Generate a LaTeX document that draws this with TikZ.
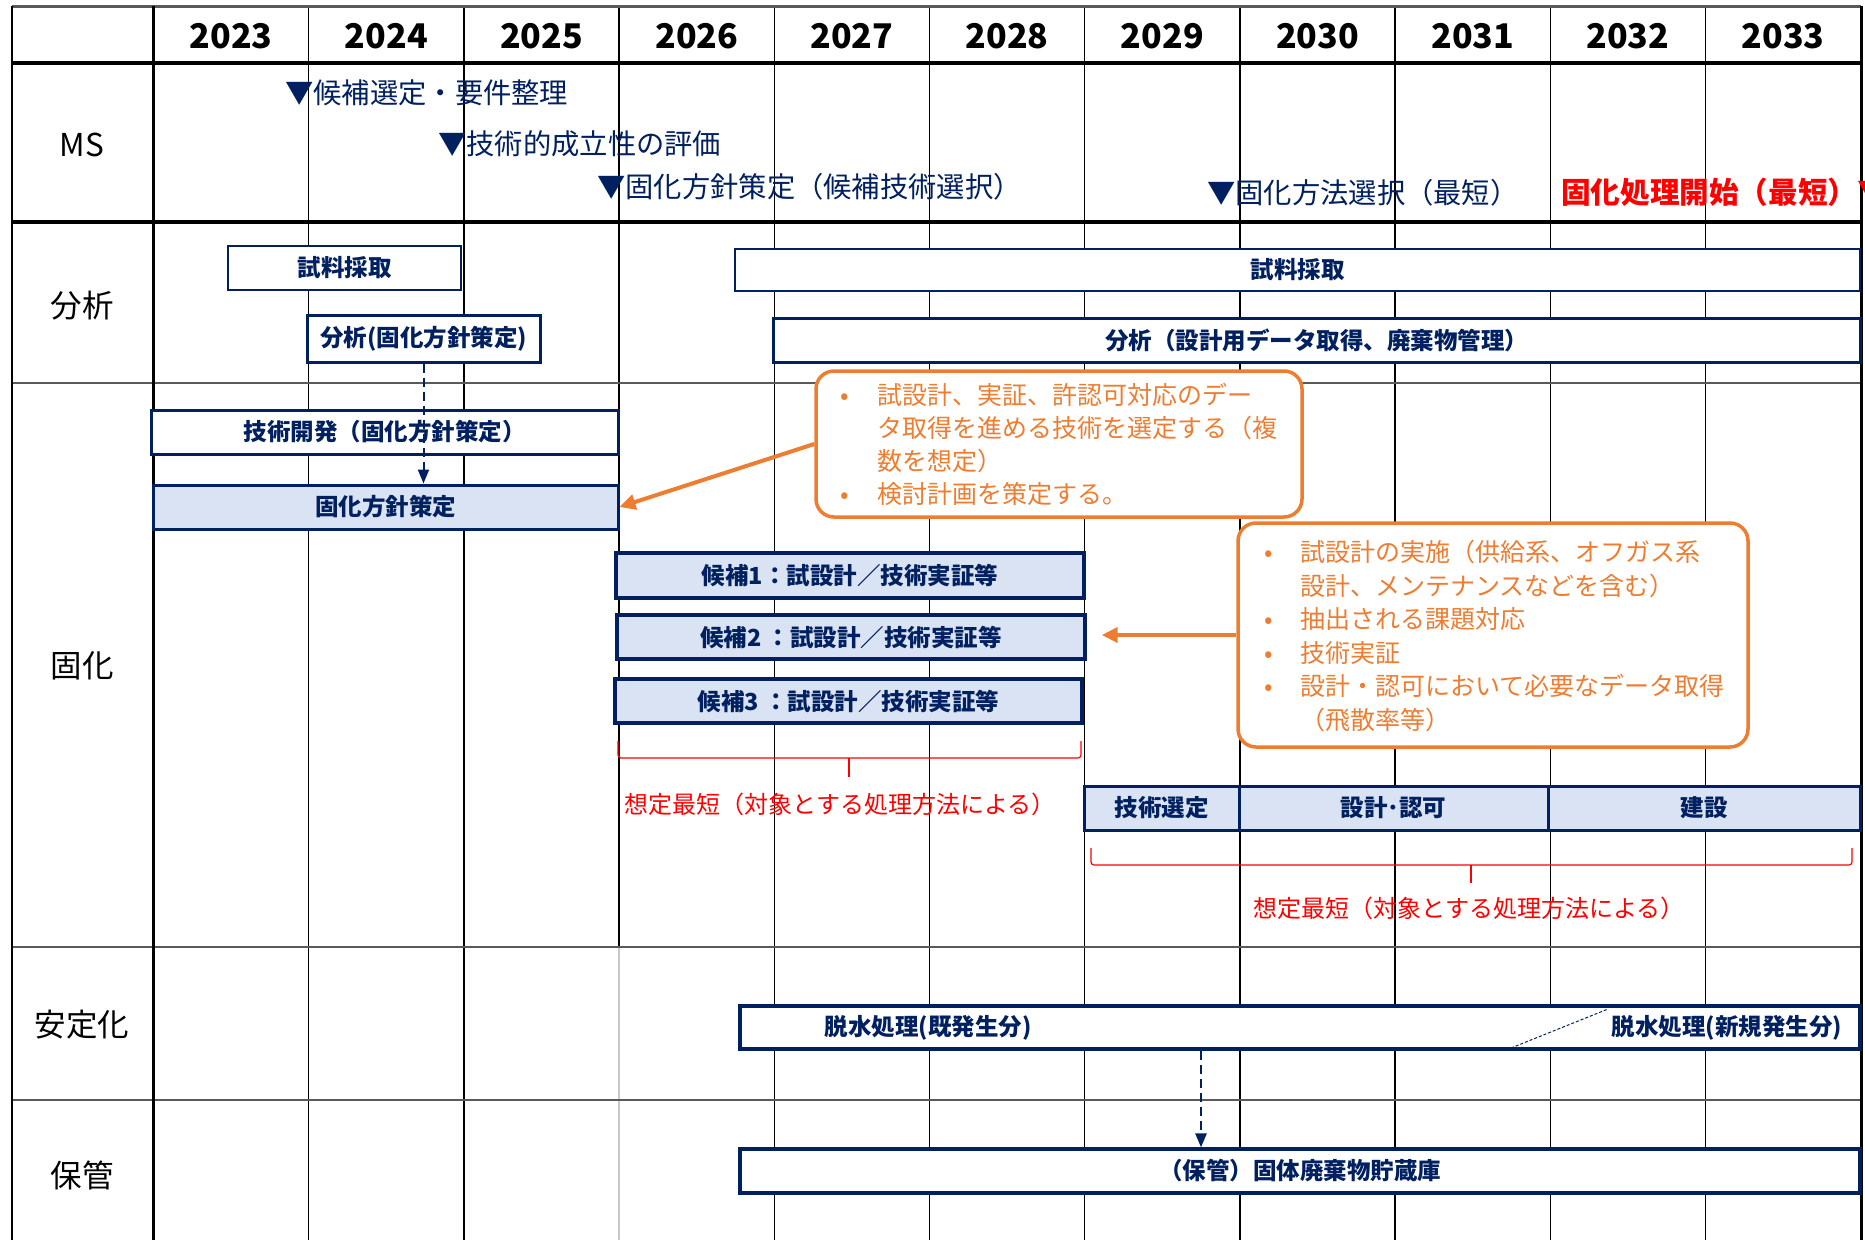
\documentclass[tikz,border=0pt]{standalone}
\usepackage{fontspec}
\setmainfont{Noto Sans CJK JP}
\usetikzlibrary{arrows.meta,calc}
\definecolor{navy}{RGB}{0,32,96}
\definecolor{lblue}{RGB}{218,227,243}
\definecolor{orng}{RGB}{237,125,49}
\definecolor{gridgray}{RGB}{90,90,90}
\definecolor{lightgrid}{RGB}{200,200,200}
\newcommand{\myfs}[1]{\fontsize{#1}{#1}\selectfont}
\tikzset{
  bar/.style={draw=navy, line width=2.8pt, fill=white, text=navy, font=\myfs{23.5}\bfseries, inner sep=0pt},
  barb/.style={bar, fill=lblue},
  bartext/.style={text=navy, font=\myfs{23.5}\bfseries, inner sep=0pt},
  year/.style={font=\myfs{34}\bfseries, text=black, inner sep=0pt},
  rowlab/.style={font=\myfs{31.5}, text=black, inner sep=0pt},
  mstext/.style={font=\myfs{28.3}, text=navy, inner sep=0pt, anchor=west},
  callout/.style={draw=orng, line width=3.5pt, rounded corners=18pt, fill=white, inner sep=0pt},
  ctext/.style={text=orng, font=\fontsize{25}{33}\selectfont, inner sep=0pt, anchor=base west},
  redlab/.style={text=red, font=\myfs{24}, inner sep=0pt},
  bracepath/.style={draw=red, line width=1.2pt, rounded corners=3pt},
  oarrow/.style={draw=orng, line width=4pt, -{Triangle[length=16pt,width=15pt]}},
  darrow/.style={draw=navy, line width=2pt, dash pattern=on 9pt off 5pt, -{Triangle[length=14pt,width=11pt]}},
  gridv/.style={draw=black, line width=1.3pt},
  gridh/.style={draw=gridgray, line width=2pt},
  gridthick/.style={draw=black, line width=4pt},
}
\begin{document}
\begin{tikzpicture}[x=1pt,y=-1pt]
\useasboundingbox (0,0) rectangle (1865,1240);
\fill[white] (0,0) rectangle (1865,1240);

% ---------- grid ----------
\foreach \i in {1,2,4,5,6,7,8,9,10}
  \draw[gridv] ({153.5+155.2*\i},6) -- ({153.5+155.2*\i},1240);
\draw[gridv] ({153.5+155.2*3},6) -- ({153.5+155.2*3},947);
\draw[draw=lightgrid, line width=1.3pt] ({153.5+155.2*3},947) -- ({153.5+155.2*3},1240);
\draw[draw=gridgray, line width=3pt] (12,6) -- (1861,6);
\draw[gridthick] (12,63) -- (1861,63);
\draw[gridthick] (12,222) -- (1861,222);
\draw[gridh] (12,383) -- (1861,383);
\draw[gridh] (12,947) -- (1861,947);
\draw[gridh] (12,1100) -- (1861,1100);
\draw[draw=black, line width=2.5pt] (12,6) -- (12,1240);
\draw[draw=black, line width=3.5pt] (153.5,6) -- (153.5,1240);
\draw[draw=black, line width=3pt] (1861,6) -- (1861,1240);

% ---------- header ----------
\foreach \y [count=\i from 0] in {2023,2024,2025,2026,2027,2028,2029,2030,2031,2032,2033}
  \node[year] (y\y) at ({153.5+155.2*(\i+0.5)},36) {\y};

% ---------- row labels ----------
\node[rowlab] (labms) at (82,145) {MS};
\node[rowlab] (labbun) at (82,306) {分析};
\node[rowlab] (labko) at (82,666) {固化};
\node[rowlab] (laban) at (82,1025) {安定化};
\node[rowlab] (labho) at (82,1175) {保管};

% ---------- milestones ----------
\node[mstext] (ms1) at (285,93) {▼候補選定・要件整理};
\node[mstext] (ms2) at (438,144) {▼技術的成立性の評価};
\node[mstext] (ms3) at (597,187) {▼固化方針策定（候補技術選択）};
\node[mstext] (ms4) at (1207,193) {▼固化方法選択（最短）};
\node[mstext, text=red, font=\myfs{29.6}\bfseries] (ms5) at (1561,192) {固化処理開始（最短）▼};

% ---------- analysis row ----------
\node[bar, line width=2.4pt, minimum width=233pt, minimum height=44pt] (sairyo1) at (344.5,268) {試料採取};
\node[bar, line width=2.4pt, minimum width=1125pt, minimum height=42pt] (sairyo2) at (1297.5,270) {試料採取};
\node[bar, line width=3pt, minimum width=233pt, minimum height=47pt] (bunseki1) at (423.5,338.5) {分析(固化方針策定)};
\node[bar, line width=3pt, minimum width=1087pt, minimum height=44pt] (bunseki2) at (1316.5,340) {分析（設計用データ取得、廃棄物管理）};

% ---------- solidification row ----------
\node[bar, line width=3pt, minimum width=467pt, minimum height=44pt] (gijutsu) at (384.5,432) {技術開発（固化方針策定）};
\node[barb, line width=3pt, minimum width=465pt, minimum height=44pt] (houshin) at (385.5,507) {固化方針策定};
\node[barb, line width=3.4pt, minimum width=468pt, minimum height=45pt] (c1) at (850,575.5) {候補1：試設計／技術実証等};
\node[barb, line width=3.4pt, minimum width=468pt, minimum height=44pt] (c2) at (851,637) {候補2 ：試設計／技術実証等};
\node[barb, line width=3.4pt, minimum width=467pt, minimum height=44pt] (c3) at (848.5,701) {候補3 ：試設計／技術実証等};
\node[barb, line width=3pt, minimum width=155pt, minimum height=44pt] (sentei) at (1161.5,808) {技術選定};
\node[barb, line width=3pt, minimum width=309pt, minimum height=44pt] (ninka) at (1393.5,808) {設計･認可};
\node[barb, line width=3pt, minimum width=312pt, minimum height=44pt] (kensetsu) at (1704,808) {建設};

\draw[darrow] (bunseki1.south) -- (bunseki1.south |- houshin.north);

% braces
\draw[bracepath] (618,741) -- (618,758) -- (1081,758) -- (1081,741);
\draw[draw=red, line width=1.2pt] (849,758) -- (849,777);
\node[redlab] (bl1) at (840,804) {想定最短（対象とする処理方法による）};
\draw[bracepath] (1091,848) -- (1091,865) -- (1852,865) -- (1852,848);
\draw[draw=red, line width=1.2pt] (1471,865) -- (1471,883);
\node[redlab] (bl2) at (1469,908) {想定最短（対象とする処理方法による）};

% callouts
\node[callout, minimum width=486pt, minimum height=146pt] (callout1) at (1059,444) {};
\node[ctext] (ct1) at (840,404.5) {\begin{tabular}[t]{@{}p{37pt}@{}l@{}}
•&試設計、実証、許認可対応のデー\\
&タ取得を進める技術を選定する（複\\
&数を想定）\\
•&検討計画を策定する。
\end{tabular}};
\node[callout, minimum width=510pt, minimum height=224pt] (callout2) at (1493,635) {};
\node[ctext, font=\fontsize{25}{33.5}\selectfont] (ct2) at (1264,561.5) {\begin{tabular}[t]{@{}p{36pt}@{}l@{}}
•&試設計の実施（供給系、オフガス系\\
&設計、メンテナンスなどを含む）\\
•&抽出される課題対応\\
•&技術実証\\
•&設計・認可において必要なデータ取得\\
&（飛散率等）
\end{tabular}};
\draw[oarrow] (callout1.west) -- (houshin.east);
\draw[oarrow, shorten >=15pt] (callout2.west) -- (callout2.west -| c2.east);

% ---------- stabilisation row ----------
\node[bar, line width=3.2pt, minimum width=1120pt, minimum height=43pt] (dassui) at (1300,1027.5) {};
\node[bartext] (dl) at (928,1027.5) {脱水処理(既発生分)};
\node[bartext] (dr) at (1727,1027.5) {脱水処理(新規発生分)};
\draw[draw=navy, line width=1pt, dash pattern=on 3pt off 2pt] (1511,1048) -- (1608,1009);

% ---------- storage row ----------
\node[bar, line width=3.2pt, minimum width=1120pt, minimum height=44pt] (hokan) at (1300,1171) {（保管）固体廃棄物貯蔵庫};
\coordinate (ax) at (1201,0);
\draw[darrow, line width=2.5pt] (dassui.south -| ax) -- (hokan.north -| ax);
\end{tikzpicture}
\end{document}
